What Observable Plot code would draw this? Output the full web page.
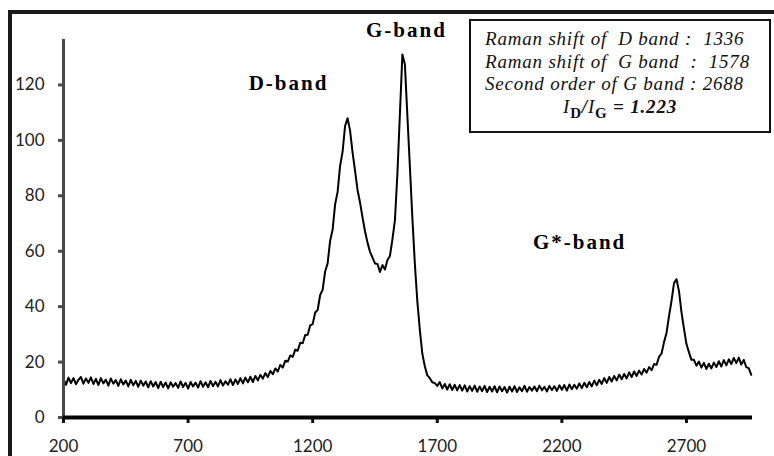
<!DOCTYPE html>
<html>
<head>
<meta charset="utf-8">
<script src="https://cdn.jsdelivr.net/npm/d3@7"></script>
<script src="https://cdn.jsdelivr.net/npm/@observablehq/plot@0.6"></script>
<style>
  html, body { margin: 0; padding: 0; background: #fff; }
  #wrap { width: 774px; height: 456px; overflow: hidden; background: #fff; position: relative; }
  #chart { position: absolute; left: 0; top: 0; }
  #box { position: absolute; left: 469px; top: 19px; width: 298px; height: 110px;
         border: 2px solid #111; background: #fff;
         font-family: "Liberation Serif", "Times New Roman", serif; font-style: italic;
         font-size: 19px; letter-spacing: 0.8px; color: #111; }
  #box .ln { position: absolute; left: 14px; white-space: pre; line-height: 1; }
  #box .ratio { position: absolute; left: 0; width: 100%; text-align: center; white-space: pre;
                font-weight: bold; line-height: 1; }
  #box sub { font-size: 15px; font-style: normal; vertical-align: -5px; }
  .bandlabel text { letter-spacing: 2px; }
</style>
</head>
<body>
<div id="wrap">
  <div id="chart"></div>
  <div id="box"></div>
</div>
<script>
// Raman shift grid (cm^-1): sampled every 10 from 200 to 2960
const shiftStart = 200, shiftStep = 10, shiftEnd = 2960;
const shifts = d3.range(shiftStart, shiftEnd + 1, shiftStep);

// Intensity, one value per shift
const intensity = [
  13.9, 11.8, 14.4, 12.4, 14.2, 12.0, 13.6, 14.6, 12.2, 14.1,
  12.5, 14.5, 12.1, 13.9, 11.7, 14.2, 12.3, 13.7, 11.5, 14.1,
  12.2, 13.5, 11.4, 13.8, 11.9, 13.3, 11.2, 13.6, 11.6, 13.2,
  11.1, 13.3, 11.5, 13.0, 10.9, 13.1, 11.2, 12.8, 10.6, 12.9,
  11.0, 12.6, 10.5, 12.7, 11.1, 12.4, 10.7, 13.0, 11.0, 12.5,
  10.4, 12.8, 11.2, 12.6, 10.8, 13.1, 11.1, 12.7, 10.9, 13.2,
  11.3, 12.9, 11.2, 13.5, 11.5, 13.1, 11.8, 13.8, 11.7, 13.7,
  12.1, 14.2, 12.3, 14.4, 12.7, 14.7, 12.8, 15.0, 13.4, 15.4,
  14.0, 16.0, 14.6, 16.8, 15.6, 17.7, 16.6, 19.0, 18.0, 20.5,
  20.2, 22.4, 21.9, 24.5, 24.1, 27.0, 26.8, 29.8, 29.9, 33.2,
  33.7, 37.9, 38.8, 44.2, 46.1, 52.7, 55.6, 63.8, 67.8, 76.9,
  81.4, 90.8, 95.9, 105.2, 108.0, 103.5, 95.7, 89.1, 82.1, 77.6,
  72.2, 67.2, 63.1, 59.8, 57.7, 55.6, 55.4, 52.5, 55.0, 53.4,
  56.8, 58.3, 64.3, 71.1, 88.0, 109.5, 131.0, 127.5, 108.9, 90.6,
  72.1, 55.5, 41.9, 31.6, 23.0, 18.5, 15.2, 14.2, 12.7, 12.4,
  11.4, 12.8, 10.5, 12.1, 10.1, 12.0, 9.9, 11.8, 9.8, 11.7,
  9.7, 11.6, 9.4, 11.3, 9.6, 11.5, 9.3, 11.2, 9.5, 11.4,
  9.2, 11.1, 9.4, 11.3, 9.1, 11.2, 9.5, 11.0, 9.0, 11.1,
  9.4, 11.3, 9.2, 10.9, 9.5, 11.4, 9.3, 11.0, 9.7, 11.2,
  9.5, 11.5, 9.8, 11.1, 9.4, 11.4, 9.9, 11.3, 9.6, 11.6,
  10.0, 11.7, 9.7, 11.9, 10.2, 11.8, 10.4, 12.3, 10.6, 12.5,
  10.9, 12.8, 11.2, 13.3, 11.6, 13.6, 12.1, 14.2, 12.5, 14.6,
  13.0, 15.0, 13.4, 15.5, 13.8, 15.7, 14.1, 16.3, 14.6, 16.6,
  15.0, 16.9, 15.5, 17.5, 16.2, 18.2, 17.1, 19.3, 19.0, 21.9,
  23.1, 27.2, 30.5, 36.6, 42.1, 48.5, 49.9, 45.6, 38.0, 32.1,
  26.5, 23.5, 20.8, 20.8, 18.7, 20.2, 18.0, 19.7, 17.5, 19.4,
  17.7, 19.8, 18.2, 20.3, 18.4, 20.7, 18.8, 21.0, 19.3, 21.5,
  19.6, 21.6, 19.1, 20.8, 18.2, 17.8, 15.4
];

// Axis ticks
const xTicks = [200, 700, 1200, 1700, 2200, 2700];
const yTicks = [0, 20, 40, 60, 80, 100, 120];

// Band labels (data coordinates)
const bandLabels = ["D-band", "G-band", "G*-band"];
const bandX = [1103, 1576, 2271];
const bandY = [120.5, 139.7, 63.2];

// Info box text
const infoLines = [
  "Raman shift of  D band :  1336",
  "Raman shift of  G band  :  1578",
  "Second order of G band : 2688"
];
const ratioValue = "1.223";

const data = shifts.map((s, i) => ({shift: s, value: intensity[i]}));
const labels = bandLabels.map((t, i) => ({text: t, x: bandX[i], y: bandY[i]}));

const chart = Plot.plot({
  width: 774,
  height: 456,
  marginLeft: 63,
  marginRight: 22,
  marginTop: 39,
  marginBottom: 39,
  x: {domain: [200, 2965]},
  y: {domain: [0, 136.4]},
  style: {fontFamily: "Lato, sans-serif", fontSize: "17px", color: "#222", background: "#fff"},
  marks: [
    Plot.line(data, {x: "shift", y: "value", stroke: "#000", strokeWidth: 2}),
    Plot.ruleX([200], {stroke: "#4a4a4a", strokeWidth: 3}),
    Plot.axisY({ticks: yTicks, tickSize: 5, tickPadding: 14, label: null, stroke: "#4a4a4a", strokeWidth: 3, fill: "#222"}),
    Plot.axisX({ticks: xTicks, tickSize: 6, tickPadding: 16, label: null, stroke: "#111", strokeWidth: 3, fill: "#222", tickFormat: d => String(d)}),
    Plot.ruleY([0], {stroke: "#000", strokeWidth: 4}),
    Plot.text(labels, {x: "x", y: "y", text: "text", fontFamily: "Liberation Serif", fontWeight: "bold", fontSize: 21, fill: "#000"})
  ]
});
document.getElementById("chart").appendChild(chart);
chart.querySelectorAll('g[aria-label="text"]').forEach(g => g.classList.add("bandlabel"));

// Outer picture frame: left and top edges, drawn as SVG rects
const svgSel = d3.select(chart);
svgSel.append("rect").attr("x", 8).attr("y", 10).attr("width", 766).attr("height", 4).attr("fill", "#1a1a1a");
svgSel.append("rect").attr("x", 8).attr("y", 10).attr("width", 4).attr("height", 446).attr("fill", "#1a1a1a");

const box = document.getElementById("box");
const tops = [8, 31, 53];
infoLines.forEach((t, i) => {
  const d = document.createElement("div");
  d.className = "ln";
  d.style.top = tops[i] + "px";
  d.textContent = t;
  box.appendChild(d);
});
const r = document.createElement("div");
r.className = "ratio";
r.style.top = "76px";
r.innerHTML = "<span style='font-weight:normal'>I</span><sub><b>D</b></sub>/<span style='font-weight:normal'>I</span><sub><b>G</b></sub> = " + ratioValue;
box.appendChild(r);
</script>
</body>
</html>
